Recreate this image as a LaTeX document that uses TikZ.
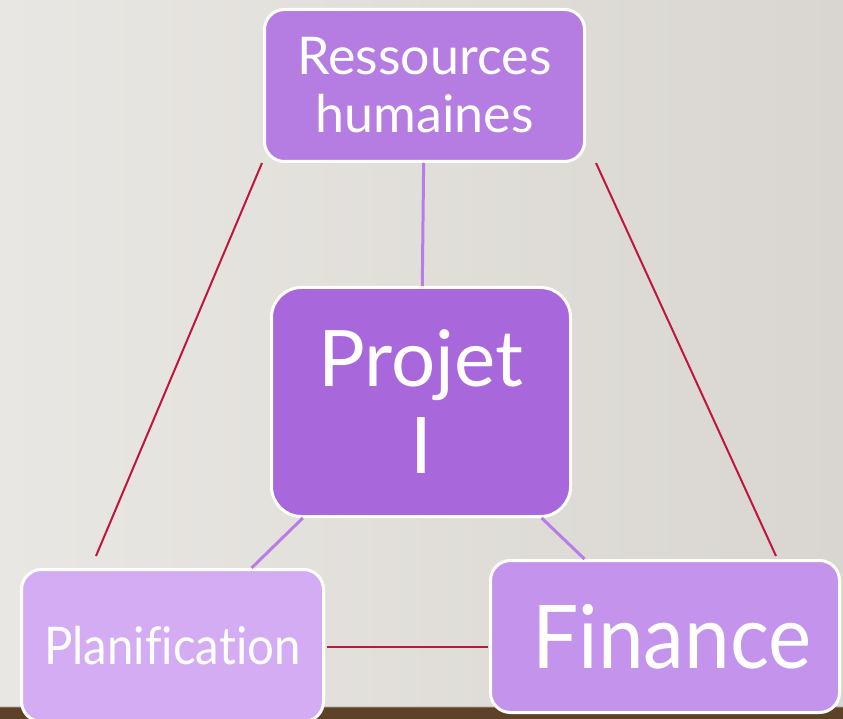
\documentclass[tikz,border=0pt]{standalone}
\usepackage{fontspec}
\setmainfont{Lato}[Ligatures=NoCommon]
\newfontfamily\narrowa{Lato}[Ligatures=NoCommon, FakeStretch=0.91]
\newfontfamily\narrowb{Lato}[Ligatures=NoCommon, FakeStretch=0.93]
\definecolor{bgA}{HTML}{E9E7E3}
\definecolor{bgB}{HTML}{D9D6D1}
\definecolor{woodc}{HTML}{5E4228}
\definecolor{rhc}{HTML}{B57CE2}
\definecolor{pjc}{HTML}{A867DA}
\definecolor{plc}{HTML}{D4ACF4}
\definecolor{fic}{HTML}{C493EB}
\definecolor{redl}{HTML}{C0163E}
\definecolor{purl}{HTML}{B67EE6}
\begin{document}
\begin{tikzpicture}[x=1pt,y=-1pt,
  box/.style={draw=white, line width=3pt, rounded corners=20pt, text=white, align=center, inner sep=0pt},
  redline/.style={draw=redl, line width=2pt},
  purline/.style={draw=purl, line width=3pt}]
\useasboundingbox (0,0) rectangle (843,719);
\shade[shading=axis, shading angle=-65, left color=bgA, right color=bgB] (0,0) rectangle (843,707);
\fill[woodc] (0,707) rectangle (843,719);
\fill[black!35, opacity=0.4] (0,706) rectangle (843,708);
\node[box, fill=rhc, minimum width=320pt, minimum height=152pt, font=\fontsize{52}{58}\selectfont] (rh) at (424.5,85.5) {Ressources\\humaines};
\node[box, fill=pjc, rounded corners=30pt, minimum width=299pt, minimum height=229pt, font=\fontsize{78}{87}\selectfont] (pj) at (421,402) {Projet\\I};
\node[box, fill=plc, minimum width=302pt, minimum height=152pt, font=\narrowa\fontsize{52}{58}\selectfont] (pl) at (172.5,645.5) {Planification};
\node[box, fill=fic, minimum width=349pt, minimum height=152pt, font=\narrowb\fontsize{88}{96}\selectfont, text width=349pt] (fi) at (665,636.5) {\hspace*{14pt}Finance};
\coordinate (rhl) at ([xshift=-1pt]rh.south west);
\coordinate (rhr) at ([xshift=10pt]rh.south east);
\coordinate (plt) at (96,556);
\coordinate (fit) at (776,556);
\coordinate (ple) at ([yshift=-1.5pt]pl.east);
\draw[purline] (rh) -- (pj);
\draw[purline] (pj) -- (pl);
\draw[purline] (pj) -- (fi);
\draw[redline] (rhl) -- (plt);
\draw[redline] (rhr) -- (fit);
\draw[redline, line width=2.6pt] ([xshift=1.5pt]ple) -- ([xshift=-1.5pt]ple -| fi.west);
\end{tikzpicture}
\end{document}
